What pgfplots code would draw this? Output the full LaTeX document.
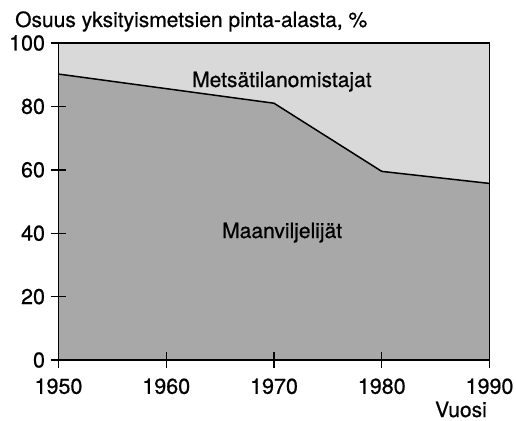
\documentclass[border=0pt]{standalone}
\usepackage{fontspec}
\setmainfont{TeX Gyre Heros}[FakeBold=0.7]
\usepackage{pgfplots}
\pgfplotsset{compat=1.18}
\definecolor{lightarea}{HTML}{D9D9D9}
\definecolor{darkarea}{HTML}{A8A8A8}
\begin{document}
\begin{tikzpicture}[x=1bp,y=1bp]
\useasboundingbox (0,0) rectangle (516,420);
\begin{axis}[
  at={(58.5bp,60bp)}, anchor=south west,
  scale only axis, width=431bp, height=317bp,
  xmin=1950, xmax=1990, ymin=0, ymax=100,
  xtick={1950,1960,1970,1980,1990},
  ytick={0,20,40,60,80,100},
  xticklabel style={/pgf/number format/1000 sep={}},
  /pgf/number format/assume math mode=true,
  tick label style={font=\fontsize{21.5bp}{25bp}\selectfont},
  tick align=center,
  major tick length=16bp,
  xtick pos=bottom, ytick pos=left,
  axis line style={line width=1.5bp},
  every tick/.style={black, line width=1.4bp},
  axis on top,
  xticklabel style={yshift=-7bp},
  yticklabel style={xshift=-2bp},
]
\addplot[fill=lightarea, draw=none] coordinates {(1950,100) (1990,100) (1990,55.7) (1980,59.5) (1970,81) (1950,90.2)} --cycle;
\addplot[fill=darkarea, draw=none] coordinates {(1950,90.2) (1970,81) (1980,59.5) (1990,55.7)} \closedcycle;
\addplot[black, line width=1.5bp] coordinates {(1950,90.2) (1970,81) (1980,59.5) (1990,55.7)};
\end{axis}
\node[anchor=base west, inner sep=0, font=\fontsize{21bp}{25bp}\selectfont] at (15,393) {Osuus yksityismetsien pinta-alasta, \%};
\node[anchor=base east, inner sep=0, font=\fontsize{21bp}{25bp}\selectfont] at (487,3) {Vuosi};
\node[anchor=base west, inner sep=0, font=\fontsize{21bp}{25bp}\selectfont] at (192,333) {Metsätilanomistajat};
\node[anchor=base west, inner sep=0, font=\fontsize{21bp}{25bp}\selectfont] at (222,182) {Maanviljelijät};
\end{tikzpicture}
\end{document}
